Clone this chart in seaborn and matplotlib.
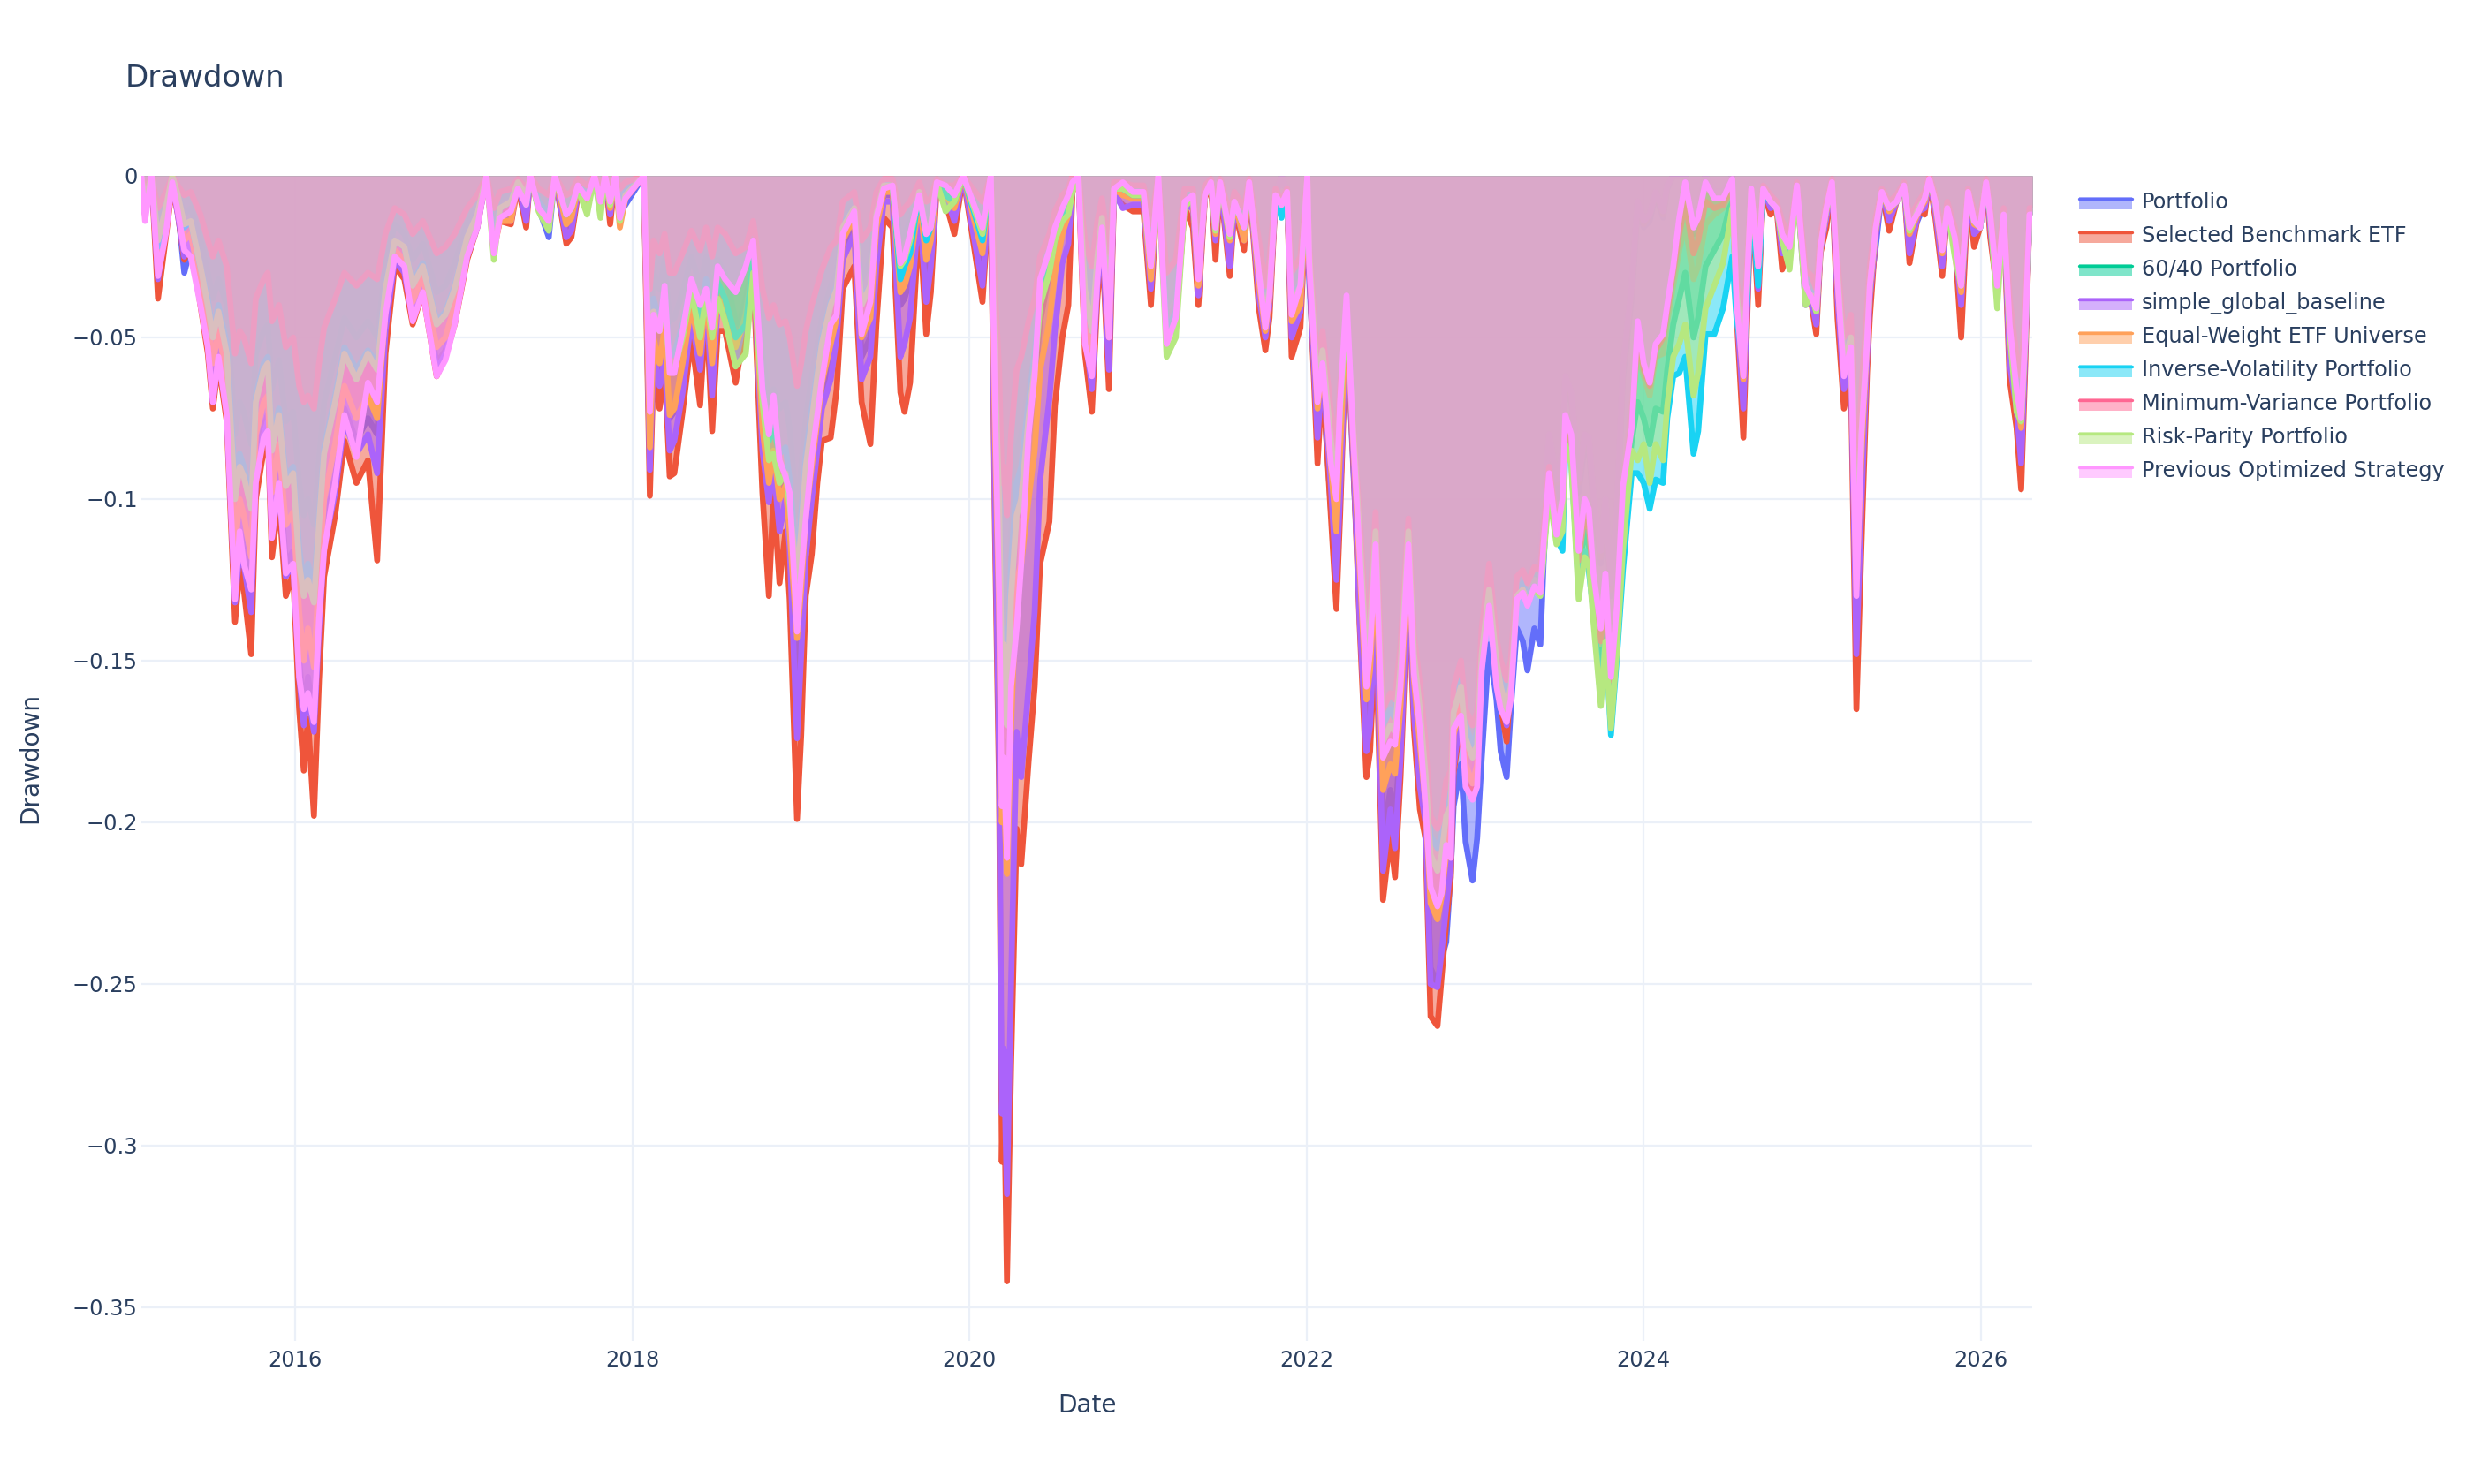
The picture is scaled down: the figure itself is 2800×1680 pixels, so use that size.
import numpy as np
import pandas as pd
import matplotlib
matplotlib.use("Agg")
import matplotlib.pyplot as plt
import seaborn as sns
from matplotlib.patches import Rectangle
from matplotlib.lines import Line2D

# knot dates (one line per year)
dates = [
    "2015-02-02", "2015-02-10", "2015-02-24", "2015-03-10", "2015-03-27", "2015-04-10", "2015-04-22", "2015-05-06", "2015-05-20", "2015-06-10", "2015-06-26", "2015-07-07", "2015-07-19", "2015-08-06", "2015-08-24", "2015-09-03", "2015-09-12", "2015-09-28", "2015-10-08", "2015-10-25", "2015-11-03", "2015-11-12", "2015-11-27", "2015-12-12", "2015-12-28",
    "2016-01-10", "2016-01-20", "2016-01-29", "2016-02-11", "2016-02-22", "2016-03-04", "2016-03-28", "2016-04-17", "2016-05-13", "2016-06-07", "2016-06-27", "2016-07-15", "2016-08-04", "2016-08-25", "2016-09-12", "2016-10-04", "2016-11-03", "2016-11-22", "2016-12-12",
    "2017-01-08", "2017-01-30", "2017-02-19", "2017-03-07", "2017-03-20", "2017-04-13", "2017-04-28", "2017-05-16", "2017-05-25", "2017-06-12", "2017-07-04", "2017-07-17", "2017-08-11", "2017-08-22", "2017-09-05", "2017-09-25", "2017-10-11", "2017-10-24", "2017-11-03", "2017-11-14", "2017-11-25", "2017-12-05", "2017-12-17",
    "2018-01-26", "2018-02-08", "2018-02-16", "2018-03-01", "2018-03-12", "2018-03-23", "2018-04-02", "2018-04-20", "2018-05-09", "2018-05-28", "2018-06-10", "2018-06-23", "2018-07-05", "2018-07-21", "2018-08-13", "2018-09-04", "2018-09-20", "2018-10-10", "2018-10-24", "2018-11-03", "2018-11-16", "2018-11-29", "2018-12-08", "2018-12-24",
    "2019-01-02", "2019-01-12", "2019-01-25", "2019-02-06", "2019-02-16", "2019-03-07", "2019-03-20", "2019-04-02", "2019-04-27", "2019-05-13", "2019-06-01", "2019-06-14", "2019-06-30", "2019-07-19", "2019-08-05", "2019-08-14", "2019-08-26", "2019-09-15", "2019-09-30", "2019-10-10", "2019-10-23", "2019-11-11", "2019-11-30", "2019-12-19",
    "2020-01-30", "2020-02-17", "2020-02-26", "2020-03-06", "2020-03-12", "2020-03-16", "2020-03-23", "2020-04-01", "2020-04-13", "2020-04-23", "2020-05-09", "2020-05-22", "2020-06-03", "2020-06-23", "2020-07-05", "2020-07-21", "2020-08-03", "2020-08-12", "2020-08-25", "2020-09-08", "2020-09-23", "2020-10-05", "2020-10-15", "2020-10-30", "2020-11-10", "2020-11-29", "2020-12-21",
    "2021-01-13", "2021-01-29", "2021-02-14", "2021-03-04", "2021-03-24", "2021-04-12", "2021-04-30", "2021-05-12", "2021-05-26", "2021-06-08", "2021-06-18", "2021-06-28", "2021-07-19", "2021-07-29", "2021-08-19", "2021-08-30", "2021-09-20", "2021-10-04", "2021-10-13", "2021-10-26", "2021-11-08", "2021-11-20", "2021-11-30", "2021-12-19", "2022-01-03",
    "2022-01-07", "2022-01-25", "2022-02-05", "2022-02-23", "2022-03-07", "2022-03-15", "2022-03-29", "2022-04-13", "2022-04-26", "2022-05-11", "2022-05-19", "2022-05-31", "2022-06-16", "2022-07-02", "2022-07-12", "2022-07-24", "2022-08-10", "2022-08-22", "2022-09-04", "2022-09-16", "2022-09-27", "2022-10-12", "2022-10-21", "2022-10-31", "2022-11-10", "2022-11-16", "2022-12-02", "2022-12-12", "2022-12-27",
    "2023-01-06", "2023-01-16", "2023-02-01", "2023-02-17", "2023-02-26", "2023-03-11", "2023-03-20", "2023-04-02", "2023-04-15", "2023-04-25", "2023-05-10", "2023-05-23", "2023-05-30", "2023-06-11", "2023-06-27", "2023-07-10", "2023-07-16", "2023-07-29", "2023-08-14", "2023-08-27", "2023-09-05", "2023-09-15", "2023-10-01", "2023-10-11", "2023-10-23", "2023-11-05", "2023-11-18", "2023-12-07", "2023-12-20",
    "2024-01-02", "2024-01-15", "2024-01-28", "2024-02-13", "2024-02-22", "2024-03-06", "2024-03-19", "2024-04-01", "2024-04-19", "2024-04-29", "2024-05-15", "2024-06-03", "2024-06-22", "2024-07-12", "2024-07-21", "2024-08-05", "2024-08-13", "2024-08-22", "2024-09-06", "2024-09-17", "2024-10-03", "2024-10-16", "2024-10-28", "2024-11-13", "2024-11-29", "2024-12-18", "2024-12-31",
    "2025-01-10", "2025-01-19", "2025-02-01", "2025-02-13", "2025-02-25", "2025-03-11", "2025-03-26", "2025-04-07", "2025-04-18", "2025-04-30", "2025-05-06", "2025-05-19", "2025-06-01", "2025-06-17", "2025-07-03", "2025-07-19", "2025-07-31", "2025-08-20", "2025-09-02", "2025-09-12", "2025-09-25", "2025-10-10", "2025-10-21", "2025-11-06", "2025-11-20", "2025-12-05", "2025-12-18", "2025-12-31",
    "2026-01-13", "2026-01-22", "2026-02-06", "2026-02-20", "2026-03-05", "2026-03-20", "2026-03-30", "2026-04-08", "2026-04-17", "2026-04-23",
]

# drawdown in percent, one line per year
portfolio = [
    0, -1.0, 0, -2.8, -1.5, 0, -1.0, -3.0, -2.2, -3.6, -5.0, -6.5, -5.3, -7.0, -12.5, -11.0, -11.5, -12.8, -9.0, -7.8, -7.4, -10.6, -9.0, -12.0, -11.6,
    -15.0, -16.5, -15.5, -16.8, -13.5, -11.0, -9.3, -7.2, -8.2, -7.5, -8.0, -4.6, -2.6, -3.0, -4.3, -3.4, -5.8, -5.4, -4.4,
    -2.4, -1.5, 0, -2.0, -1.2, -1.2, -0.2, -1.0, 0, -1.0, -1.9, 0, -1.6, -1.4, -0.4, -0.7, 0, -0.7, 0, -1.0, 0, -1.2, -0.9,
    0, -8.0, -5.0, -6.0, -4.8, -7.5, -7.3, -6.0, -4.0, -5.5, -3.5, -6.0, -3.6, -3.8, -5.0, -3.8, -2.6, -7.5, -9.0, -8.0, -9.8, -9.3, -10.6, -15.5,
    -13.5, -11.0, -9.3, -8.0, -6.8, -5.5, -4.7, -2.3, -1.5, -5.6, -5.0, -2.0, -0.6, -0.6, -4.0, -3.8, -3.2, -0.8, -3.0, -2.2, -0.2, -0.5, -1.0, 0,
    -2.6, 0, -7.0, -12.0, -19.0, -17.5, -21.0, -15.0, -10.0, -10.5, -8.0, -6.5, -4.5, -3.0, -2.0, -1.2, -0.8, -0.2, 0, -4.5, -6.0, -3.0, -1.5, -5.3, -0.4, -0.5, -0.7,
    -0.7, -3.2, 0, -4.4, -4.0, -0.8, -0.8, -3.4, -0.6, -0.2, -1.8, -0.2, -2.4, -0.8, -1.8, -0.2, -3.4, -4.8, -3.8, -0.6, 0, -0.5, -4.6, -3.9, 0,
    -3.2, -8.0, -6.3, -10.3, -12.0, -10.0, -4.4, -9.2, -13.0, -17.0, -16.3, -12.8, -20.5, -19.0, -20.0, -17.4, -12.0, -16.2, -18.6, -20.0, -24.5, -25.0, -24.2, -23.7, -21.5, -19.5, -18.2, -20.6, -21.8,
    -20.5, -18.0, -14.5, -16.2, -17.8, -18.6, -16.5, -14.0, -14.4, -15.3, -14.0, -14.5, -12.0, -8.8, -10.0, -9.0, -6.6, -7.0, -9.8, -8.4, -8.5, -10.2, -12.0, -10.4, -13.0, -10.8, -6.3, -3.8, -1.0,
    -1.6, -1.4, -0.6, -1.3, -0.4, 0, 0, 0, -1.6, -1.0, 0, -0.6, -0.5, 0, -3.8, -6.8, -4.0, -0.5, -3.2, -0.4, -0.9, -0.9, -2.0, -2.0, -0.3, -3.6, -3.7,
    -4.2, -2.2, -1.1, -0.2, -3.4, -6.2, -5.5, -13.5, -9.0, -5.4, -3.6, -2.2, -0.5, -1.2, -0.8, -0.3, -2.0, -1.3, -0.9, -0.1, -1.0, -2.6, -1.0, -1.9, -3.6, -0.5, -1.6, -1.6,
    -0.2, -1.4, -3.4, -1.2, -5.2, -6.8, -8.2, -5.2, -1.2, -1.2,
]
benchmark = [
    0, -1.2, 0, -3.8, -1.9, -0.3, -1.2, -2.6, -2.0, -4.0, -5.5, -7.2, -5.8, -7.6, -13.8, -12.2, -12.8, -14.8, -10.0, -8.5, -8.0, -11.8, -10.0, -13.0, -12.3,
    -16.5, -18.4, -16.8, -19.8, -15.6, -12.4, -10.5, -8.2, -9.5, -8.8, -11.9, -5.5, -2.8, -3.2, -4.6, -3.6, -6.2, -5.6, -4.6,
    -2.6, -1.6, 0, -2.2, -1.4, -1.5, -0.3, -1.6, 0, -1.0, -1.6, 0, -2.1, -1.9, -0.6, -0.9, 0, -0.9, 0, -1.5, 0, -1.4, -0.7,
    0, -9.9, -6.0, -7.2, -5.9, -9.3, -9.2, -7.3, -5.0, -7.1, -4.0, -7.9, -4.8, -4.8, -6.4, -4.5, -3.0, -9.8, -13.0, -9.8, -12.6, -11.0, -13.1, -19.9,
    -17.3, -13.0, -11.7, -9.5, -8.2, -8.1, -6.6, -3.5, -2.8, -7.0, -8.3, -4.6, -1.3, -1.6, -6.7, -7.3, -6.4, -1.2, -4.9, -3.6, -0.3, -0.8, -1.8, 0,
    -3.9, 0, -11.0, -19.0, -30.5, -27.5, -34.2, -27.5, -20.2, -21.3, -18.1, -15.8, -12.0, -10.7, -7.1, -5.0, -4.0, -0.5, 0, -5.5, -7.3, -3.8, -2.0, -6.6, -0.6, -0.9, -1.1,
    -1.1, -4.0, 0, -5.0, -4.6, -1.0, -1.6, -4.0, -0.7, -0.2, -2.6, -0.2, -3.1, -1.0, -2.3, -0.2, -4.1, -5.4, -4.4, -0.7, 0, -0.5, -5.6, -4.7, 0,
    -2.8, -8.9, -6.2, -10.5, -13.4, -10.5, -4.5, -9.0, -13.8, -18.6, -17.8, -14.0, -22.4, -20.4, -21.7, -18.6, -12.5, -17.1, -19.6, -20.5, -26.0, -26.3, -24.8, -23.1, -21.7, -18.5, -16.8, -18.5, -19.0,
    -18.0, -14.8, -12.5, -15.2, -16.4, -17.5, -15.5, -12.8, -12.5, -13.0, -12.2, -12.0, -10.5, -8.0, -9.5, -8.8, -6.3, -6.8, -9.5, -8.0, -8.2, -10.0, -11.8, -10.2, -12.8, -10.5, -6.0, -3.5, -0.8,
    -1.5, -1.2, -0.5, -1.2, -0.3, 0, 0, 0, -1.8, -1.2, 0, -0.5, -0.5, 0, -4.2, -8.1, -4.6, -0.5, -4.0, -0.5, -1.2, -1.0, -2.9, -2.2, -0.3, -3.8, -4.0,
    -4.9, -2.4, -1.6, -0.2, -4.4, -7.2, -6.2, -16.5, -11.4, -6.1, -4.4, -1.8, -0.5, -1.7, -0.8, -0.3, -2.7, -1.1, -1.2, -0.1, -1.3, -3.1, -1.0, -2.0, -5.0, -0.5, -2.2, -1.6,
    -0.2, -1.9, -3.6, -1.2, -6.3, -7.8, -9.7, -5.8, -1.2, -1.2,
]
sixty_forty = [
    0, -0.6, 0, -1.6, -0.8, 0, -0.5, -1.2, -1.0, -2.0, -3.0, -3.8, -3.2, -4.0, -8.0, -7.0, -7.3, -8.3, -5.5, -4.8, -4.6, -6.6, -5.7, -7.6, -7.3,
    -9.5, -10.5, -10.0, -10.8, -8.8, -7.0, -5.6, -4.4, -5.0, -4.5, -5.0, -2.8, -1.5, -1.8, -2.6, -2.1, -3.6, -3.4, -2.7,
    -1.5, -0.9, 0, -1.5, -0.7, -0.6, -0.1, -0.5, 0, -0.6, -0.9, 0, -0.9, -0.8, -0.2, -0.5, 0, -0.5, 0, -0.5, 0, -0.7, -0.4,
    0, -5.0, -3.0, -3.5, -2.6, -4.5, -4.4, -3.6, -2.5, -3.4, -2.5, -3.8, -2.6, -3.0, -4.5, -4.8, -2.5, -5.5, -7.0, -6.6, -7.2, -7.0, -7.8, -10.5,
    -9.0, -7.5, -6.2, -5.2, -4.4, -3.4, -3.0, -1.2, -0.8, -3.2, -2.6, -0.9, -0.2, -0.2, -2.0, -1.8, -1.4, -0.3, -1.3, -1.1, -0.1, -0.5, -0.5, 0,
    -1.3, 0, -5.0, -8.5, -13.5, -12.8, -14.5, -11.0, -8.5, -8.0, -6.5, -5.5, -3.8, -2.8, -1.8, -1.0, -0.6, -0.1, 0, -3.0, -4.0, -2.0, -1.0, -3.4, -0.3, -0.3, -0.4,
    -0.4, -2.0, 0, -4.0, -3.5, -0.6, -0.5, -2.4, -0.4, -0.1, -1.2, -0.1, -1.4, -0.6, -1.2, -0.1, -2.4, -3.8, -3.0, -0.5, -0.7, -0.4, -3.4, -2.8, 0,
    -2.2, -6.0, -5.0, -7.6, -8.9, -6.6, -4.2, -7.6, -10.5, -14.2, -13.3, -10.5, -16.8, -16.2, -16.4, -14.6, -10.6, -14.3, -15.9, -17.8, -20.2, -20.6, -20.2, -19.1, -18.8, -16.0, -15.3, -16.8, -17.3,
    -17.0, -14.2, -12.3, -14.5, -15.3, -16.0, -15.2, -12.6, -12.4, -12.8, -12.3, -12.4, -11.2, -9.2, -11.0, -10.5, -7.9, -8.5, -12.4, -11.0, -11.4, -13.0, -15.3, -13.6, -16.3, -14.0, -10.8, -8.2, -7.0,
    -7.5, -8.3, -7.2, -7.3, -6.0, -4.6, -3.8, -3.0, -5.0, -4.4, -2.8, -2.3, -1.8, -0.6, -3.0, -4.8, -2.8, -0.4, -2.2, -0.3, -0.6, -0.8, -1.5, -2.0, -0.2, -3.0, -3.2,
    -3.6, -1.8, -0.8, -0.1, -2.6, -5.0, -4.3, -10.0, -6.8, -4.3, -2.8, -1.3, -0.4, -0.8, -0.6, -0.2, -1.3, -0.8, -0.5, 0, -0.6, -1.8, -0.8, -1.7, -2.8, -0.4, -1.1, -1.3,
    -0.1, -1.0, -3.0, -1.0, -4.0, -5.8, -6.4, -4.2, -1.0, -1.0,
]
simple_global = [
    0, -1.2, 0, -3.2, -1.6, -0.2, -1.2, -2.5, -2.0, -3.8, -5.2, -7.0, -5.6, -7.3, -13.2, -11.6, -12.0, -13.5, -9.4, -8.0, -7.6, -11.2, -9.5, -12.4, -12.0,
    -15.5, -17.0, -16.0, -17.2, -14.0, -11.5, -9.8, -7.6, -8.6, -8.0, -9.2, -4.8, -2.6, -3.0, -4.4, -3.4, -6.0, -5.5, -4.5,
    -2.5, -1.6, 0, -2.2, -1.3, -1.4, -0.2, -1.4, 0, -1.0, -1.5, 0, -1.9, -1.7, -0.5, -0.8, 0, -0.8, 0, -1.2, 0, -1.3, -0.7,
    0, -9.1, -5.5, -6.5, -5.7, -8.5, -8.2, -6.7, -4.4, -6.0, -3.8, -6.8, -4.0, -4.3, -5.8, -4.2, -2.8, -8.5, -10.1, -9.0, -11.0, -10.0, -11.5, -17.4,
    -14.8, -11.8, -10.0, -8.5, -7.2, -6.3, -5.0, -2.6, -1.8, -6.3, -5.6, -2.8, -0.8, -0.8, -5.6, -5.2, -4.4, -0.9, -3.9, -2.8, -0.2, -0.6, -1.4, 0,
    -3.4, 0, -10.3, -18.0, -29.0, -27.0, -31.5, -25.0, -17.2, -18.6, -15.8, -13.5, -9.4, -6.9, -4.8, -2.7, -2.1, -0.3, 0, -4.8, -6.6, -3.4, -1.8, -6.0, -0.5, -1.0, -0.9,
    -0.9, -3.5, 0, -4.6, -4.2, -0.9, -1.0, -3.7, -0.6, -0.2, -2.0, -0.2, -2.8, -0.9, -2.0, -0.2, -3.7, -5.0, -4.0, -0.7, 0, -0.5, -5.0, -4.2, 0,
    -2.9, -8.1, -6.0, -9.6, -12.5, -9.8, -4.3, -8.8, -13.6, -17.8, -17.0, -13.2, -21.5, -19.6, -20.8, -18.0, -12.2, -16.6, -18.9, -20.0, -25.0, -25.1, -24.0, -22.6, -21.3, -18.3, -16.6, -18.3, -18.8,
    -17.8, -14.6, -12.4, -15.0, -16.2, -17.0, -15.2, -12.6, -12.3, -12.8, -12.0, -11.8, -10.4, -8.0, -9.4, -8.6, -6.2, -6.7, -9.4, -8.0, -8.1, -9.9, -11.6, -10.0, -12.6, -10.3, -5.9, -3.4, -0.8,
    -1.4, -1.2, -0.5, -1.1, -0.3, 0, 0, 0, -1.7, -1.1, 0, -0.5, -0.5, 0, -4.0, -7.2, -4.2, -0.5, -3.5, -0.4, -1.0, -0.9, -2.4, -2.2, -0.3, -4.0, -3.9,
    -4.6, -2.3, -1.3, -0.2, -3.8, -6.6, -5.8, -14.8, -10.1, -5.6, -3.8, -1.9, -0.5, -1.4, -0.8, -0.3, -2.4, -1.1, -1.0, -0.1, -1.1, -2.8, -1.0, -2.0, -4.0, -0.5, -1.8, -1.6,
    -0.2, -1.6, -3.6, -1.2, -5.8, -7.2, -8.9, -5.4, -1.2, -1.2,
]
equal_weight = [
    0, -1.0, 0, -2.6, -1.3, 0, -0.8, -2.0, -1.8, -3.3, -4.5, -5.8, -4.8, -6.2, -11.5, -10.0, -10.5, -11.8, -8.0, -7.0, -6.8, -9.8, -8.3, -10.8, -10.4,
    -13.5, -15.0, -14.0, -15.2, -12.3, -10.0, -8.3, -6.5, -7.5, -6.8, -7.5, -4.2, -2.3, -2.6, -3.9, -3.1, -5.3, -5.0, -4.0,
    -2.2, -1.4, 0, -2.3, -1.4, -1.4, -0.2, -0.9, 0, -1.0, -1.5, 0, -1.5, -1.3, -0.4, -0.8, 0, -0.8, 0, -1.0, 0, -1.6, -0.7,
    0, -8.4, -5.0, -5.8, -4.7, -7.4, -7.2, -5.8, -4.0, -5.5, -3.6, -5.8, -3.8, -4.0, -5.3, -4.3, -2.8, -7.8, -9.5, -8.5, -10.0, -9.6, -11.0, -14.3,
    -12.8, -10.5, -9.0, -7.6, -6.4, -5.2, -4.4, -2.0, -1.3, -5.0, -4.4, -1.6, -0.5, -0.5, -3.6, -3.4, -2.8, -0.7, -2.6, -2.0, -0.2, -0.6, -1.0, 0,
    -2.4, 0, -8.0, -13.5, -20.0, -19.0, -21.6, -17.0, -12.5, -12.0, -10.0, -8.5, -6.0, -4.5, -3.0, -1.8, -1.2, -0.3, 0, -4.0, -5.5, -2.8, -1.5, -5.0, -0.4, -0.6, -0.7,
    -0.7, -3.2, 0, -4.8, -4.4, -0.9, -0.8, -3.4, -0.6, -0.2, -1.8, -0.2, -2.0, -0.8, -2.0, -0.2, -3.3, -4.8, -3.8, -0.6, -0.5, -0.5, -4.5, -4.0, 0,
    -2.6, -7.2, -5.8, -9.0, -11.0, -8.5, -4.2, -8.4, -12.0, -16.2, -15.3, -12.0, -19.0, -18.2, -18.5, -16.4, -11.6, -15.6, -17.6, -19.4, -22.5, -23.0, -22.3, -21.0, -20.2, -17.3, -16.4, -18.2, -18.8,
    -18.2, -15.0, -12.9, -15.2, -16.2, -16.8, -15.8, -12.9, -12.7, -13.1, -12.5, -12.6, -11.2, -9.0, -10.6, -10.0, -7.5, -8.2, -11.5, -10.2, -10.4, -12.5, -14.5, -12.8, -15.8, -13.5, -9.5, -7.0, -5.5,
    -6.2, -6.8, -5.6, -5.5, -4.5, -3.4, -2.3, -1.5, -3.2, -2.8, -1.5, -1.2, -1.0, -0.4, -3.8, -6.3, -3.6, -0.5, -3.0, -0.4, -0.8, -1.0, -2.0, -2.2, -0.3, -3.6, -3.7,
    -4.2, -2.2, -1.1, -0.2, -3.3, -6.0, -5.3, -12.8, -8.6, -5.2, -3.5, -1.7, -0.5, -1.1, -0.8, -0.3, -1.8, -1.1, -0.8, -0.1, -0.9, -2.4, -1.0, -2.0, -3.6, -0.5, -1.5, -1.6,
    -0.2, -1.3, -3.5, -1.2, -5.0, -6.8, -7.8, -5.0, -1.2, -1.2,
]
inverse_vol = [
    0, -0.8, 0, -2.2, -1.0, 0, -0.6, -1.6, -1.4, -2.8, -3.8, -4.8, -4.0, -5.2, -9.5, -8.6, -9.0, -10.0, -6.8, -5.8, -5.6, -8.2, -7.2, -9.3, -9.0,
    -11.5, -12.6, -12.0, -12.8, -10.5, -8.4, -6.8, -5.3, -6.0, -5.4, -5.8, -3.4, -2.0, -2.2, -3.3, -2.7, -4.5, -4.2, -3.4,
    -1.9, -1.2, 0, -2.0, -1.0, -0.8, -0.2, -0.9, 0, -0.8, -1.2, 0, -1.2, -1.0, -0.3, -0.6, 0, -0.6, 0, -0.7, 0, -1.0, -0.5,
    0, -6.0, -3.8, -4.5, -3.5, -5.6, -5.5, -4.6, -3.3, -4.5, -3.2, -4.6, -3.3, -3.8, -5.0, -4.6, -2.6, -6.5, -8.2, -7.8, -8.6, -8.4, -9.4, -12.0,
    -10.5, -8.6, -7.2, -6.0, -5.0, -3.9, -3.4, -1.5, -1.0, -3.8, -3.4, -1.2, -0.3, -0.3, -3.2, -2.8, -2.4, -0.5, -2.0, -1.6, -0.2, -0.6, -0.8, 0,
    -2.0, 0, -5.8, -9.5, -15.0, -14.0, -16.0, -12.0, -9.5, -9.0, -7.0, -5.5, -3.8, -2.8, -1.8, -1.2, -0.8, -0.2, 0, -3.5, -4.8, -2.5, -1.3, -4.2, -0.4, -0.4, -0.6,
    -0.6, -2.7, 0, -4.8, -4.2, -0.8, -0.6, -2.9, -0.5, -0.2, -1.5, -0.2, -1.8, -0.8, -1.6, -0.2, -2.9, -4.3, -3.4, -0.6, -1.3, -0.5, -3.9, -3.3, 0,
    -2.4, -6.4, -5.3, -8.0, -9.4, -7.0, -4.0, -7.8, -10.8, -14.6, -13.6, -10.7, -17.0, -16.5, -16.8, -14.8, -10.7, -14.4, -16.0, -18.0, -20.4, -20.8, -20.4, -19.3, -19.0, -16.2, -15.5, -17.0, -17.6,
    -17.2, -14.4, -12.5, -14.7, -15.5, -16.2, -15.5, -12.8, -12.6, -13.0, -12.7, -12.8, -11.6, -9.6, -11.2, -11.6, -8.6, -8.8, -12.8, -11.6, -12.2, -13.5, -16.2, -14.2, -17.3, -14.9, -12.2, -9.2, -9.2,
    -9.5, -10.3, -9.4, -9.5, -7.5, -6.2, -6.1, -5.6, -8.6, -7.9, -4.9, -4.9, -4.1, -2.5, -4.4, -5.8, -3.8, -0.6, -3.4, -0.5, -0.8, -1.0, -1.9, -2.4, -0.3, -3.6, -3.6,
    -4.0, -2.1, -1.0, -0.2, -3.0, -5.8, -5.0, -11.5, -7.8, -5.0, -3.3, -1.6, -0.5, -1.0, -0.8, -0.3, -1.6, -1.0, -0.7, -0.1, -0.8, -2.2, -1.0, -2.2, -3.3, -0.5, -1.4, -1.6,
    -0.2, -1.2, -3.6, -1.2, -4.6, -6.8, -7.4, -4.9, -1.2, -1.2,
]
min_variance = [
    0, -0.5, 0, -1.0, -0.5, 0, -0.3, -0.6, -0.5, -1.2, -2.0, -2.5, -2.0, -2.8, -5.5, -4.8, -5.0, -5.8, -3.8, -3.2, -3.0, -4.5, -4.0, -5.3, -5.0,
    -6.5, -7.0, -6.8, -7.2, -5.8, -4.7, -3.8, -3.0, -3.4, -3.0, -3.2, -1.8, -1.0, -1.2, -1.8, -1.4, -2.4, -2.2, -1.8,
    -1.0, -0.6, 0, -1.0, -0.5, -0.4, -0.1, -0.4, 0, -0.4, -0.6, 0, -0.6, -0.5, -0.1, -0.3, 0, -0.3, 0, -0.3, 0, -0.4, -0.2,
    0, -3.5, -2.0, -2.4, -1.8, -3.0, -3.0, -2.4, -1.7, -2.3, -1.6, -2.5, -1.6, -1.8, -2.4, -2.2, -1.4, -3.5, -4.4, -4.0, -4.6, -4.5, -5.0, -6.5,
    -5.8, -4.8, -4.0, -3.4, -2.9, -2.2, -2.0, -0.8, -0.5, -2.0, -1.6, -0.5, -0.1, -0.1, -1.2, -1.0, -0.8, -0.2, -0.8, -0.7, -0.1, -0.3, -0.3, 0,
    -0.8, 0, -3.5, -6.0, -9.5, -9.0, -10.5, -8.0, -6.0, -5.6, -4.5, -3.8, -2.5, -1.8, -1.1, -0.6, -0.4, 0, 0, -2.0, -2.8, -1.4, -0.7, -2.4, -0.2, -0.2, -0.3,
    -0.3, -1.5, 0, -3.0, -2.6, -0.4, -0.4, -2.0, -0.3, -0.1, -1.0, -0.1, -1.2, -0.5, -1.0, -0.1, -2.0, -3.4, -2.6, -0.4, -0.8, -0.4, -3.0, -2.5, 0,
    -2.2, -5.8, -4.8, -7.3, -8.5, -6.5, -4.7, -7.8, -10.5, -14.0, -13.2, -10.4, -16.5, -16.0, -16.2, -14.5, -10.6, -14.2, -15.7, -17.5, -19.8, -20.2, -19.8, -18.7, -18.4, -15.8, -15.0, -16.5, -17.0,
    -16.6, -14.0, -12.0, -14.3, -15.0, -15.6, -15.0, -12.4, -12.2, -12.6, -12.1, -12.2, -11.0, -9.0, -10.8, -10.2, -7.6, -8.3, -11.9, -10.5, -10.8, -12.6, -14.4, -12.8, -15.6, -13.4, -9.8, -7.6, -5.0,
    -6.0, -6.5, -5.4, -5.0, -4.2, -3.0, -1.8, -0.8, -2.4, -2.0, -0.8, -1.0, -0.9, -0.3, -3.2, -4.8, -2.8, -0.4, -2.2, -0.3, -0.6, -0.8, -1.4, -1.9, -0.2, -2.9, -3.1,
    -3.5, -1.8, -0.8, -0.1, -2.6, -5.0, -4.3, -9.8, -6.6, -4.2, -2.8, -1.3, -0.4, -0.8, -0.6, -0.2, -1.3, -0.8, -0.5, 0, -0.6, -1.8, -0.8, -1.6, -2.7, -0.4, -1.1, -1.3,
    -0.1, -1.0, -2.9, -1.0, -3.8, -5.6, -6.2, -4.0, -1.0, -1.0,
]
risk_parity = [
    0, -0.8, 0, -2.0, -1.0, 0, -0.6, -1.5, -1.4, -2.8, -4.0, -5.0, -4.2, -5.5, -10.0, -9.0, -9.3, -10.3, -7.0, -6.0, -5.8, -8.5, -7.4, -9.6, -9.2,
    -12.0, -13.0, -12.5, -13.2, -10.8, -8.6, -7.0, -5.5, -6.3, -5.5, -6.0, -3.5, -2.0, -2.2, -3.4, -2.8, -4.6, -4.3, -3.5,
    -1.9, -1.2, 0, -2.6, -1.0, -0.8, -0.2, -0.6, 0, -1.1, -1.7, 0, -1.2, -1.0, -0.4, -1.2, 0, -1.3, 0, -0.9, 0, -1.4, -0.6,
    0, -6.5, -4.2, -4.8, -3.8, -6.0, -6.0, -5.0, -3.6, -5.0, -3.7, -5.0, -3.8, -4.5, -5.9, -5.5, -3.0, -7.0, -8.8, -8.6, -9.5, -9.2, -10.2, -12.5,
    -11.0, -9.0, -7.6, -6.2, -5.2, -4.0, -3.5, -1.6, -1.0, -4.0, -3.4, -1.2, -0.3, -0.3, -2.8, -2.6, -2.0, -0.5, -1.8, -1.5, -0.2, -1.1, -0.8, 0,
    -1.8, 0, -6.0, -10.0, -15.5, -14.5, -17.0, -13.0, -10.5, -10.0, -7.5, -6.0, -4.0, -3.0, -2.0, -1.4, -1.2, -0.5, 0, -3.5, -4.8, -2.5, -1.3, -4.2, -0.4, -0.4, -0.6,
    -0.6, -2.8, 0, -5.6, -5.0, -1.0, -0.6, -3.0, -0.6, -0.2, -1.7, -0.2, -1.9, -0.8, -1.6, -0.2, -3.0, -4.4, -3.5, -0.6, -0.9, -0.5, -4.0, -3.4, 0,
    -2.4, -6.5, -5.4, -8.2, -9.6, -7.2, -4.2, -8.0, -11.0, -15.0, -14.0, -11.0, -17.5, -17.0, -17.2, -15.2, -11.0, -14.8, -16.5, -18.5, -21.0, -21.5, -21.0, -19.8, -19.5, -16.6, -15.8, -17.4, -18.0,
    -17.6, -14.8, -12.8, -15.0, -15.8, -16.5, -15.8, -13.0, -12.8, -13.2, -12.8, -13.0, -11.8, -9.8, -11.4, -11.0, -8.3, -8.9, -13.1, -11.8, -12.0, -13.8, -16.4, -14.4, -17.1, -14.7, -11.6, -8.5, -8.8,
    -8.3, -9.5, -8.3, -8.8, -7.1, -5.6, -5.2, -4.6, -6.8, -6.1, -4.1, -3.4, -2.7, -1.0, -3.6, -5.6, -3.4, -0.5, -2.8, -0.4, -0.8, -1.0, -2.0, -2.9, -0.3, -4.0, -3.7,
    -4.2, -2.2, -1.0, -0.2, -3.0, -5.8, -5.0, -12.0, -8.0, -5.0, -3.4, -1.6, -0.5, -1.0, -0.8, -0.3, -1.7, -1.0, -0.7, -0.1, -0.8, -2.2, -1.0, -2.5, -3.4, -0.5, -1.4, -1.6,
    -0.2, -1.2, -4.1, -1.2, -4.8, -7.3, -7.6, -5.0, -1.2, -1.2,
]
previous_opt = [
    0, -1.4, 0, -3.1, -1.8, -0.2, -1.1, -2.3, -2.5, -4.0, -5.3, -7.0, -5.6, -7.4, -13.1, -11.0, -12.0, -12.8, -9.5, -8.1, -7.9, -11.2, -9.5, -12.3, -12.0,
    -15.5, -16.5, -16.0, -16.9, -13.7, -11.6, -9.5, -7.4, -8.7, -6.4, -7.0, -4.3, -2.5, -2.8, -4.5, -3.6, -6.2, -5.7, -4.6,
    -2.5, -1.6, 0, -2.4, -1.3, -1.1, -0.4, -0.9, 0, -1.0, -1.4, 0, -1.2, -1.0, -0.3, -0.7, 0, -0.8, 0, -0.8, 0, -1.3, -0.7,
    0, -7.3, -4.3, -4.8, -3.4, -6.1, -6.1, -4.8, -3.2, -4.0, -3.5, -4.7, -2.8, -3.2, -3.6, -2.8, -2.0, -6.6, -8.0, -6.8, -8.8, -9.3, -9.8, -14.1,
    -12.3, -10.6, -8.7, -7.4, -6.3, -4.6, -4.3, -1.8, -1.1, -4.9, -3.9, -1.3, -0.4, -0.3, -2.7, -2.5, -1.8, -0.6, -1.8, -1.6, -0.2, -0.3, -0.6, 0,
    -1.6, 0, -7.0, -13.0, -19.5, -18.0, -21.1, -15.8, -14.0, -12.0, -8.0, -6.2, -3.2, -2.3, -1.6, -1.0, -0.6, -0.2, 0, -5.2, -6.2, -3.2, -1.6, -5.0, -0.4, -0.2, -0.5,
    -0.5, -2.8, 0, -5.2, -4.4, -0.8, -0.6, -3.2, -0.6, -0.2, -1.6, -0.2, -1.8, -0.8, -1.6, -0.2, -3.0, -4.7, -3.7, -0.6, -0.9, -0.5, -4.3, -3.4, 0,
    -2.7, -7.0, -5.8, -8.9, -10.0, -7.0, -3.7, -8.3, -11.6, -15.8, -14.7, -11.4, -18.0, -17.5, -17.6, -15.8, -11.4, -15.4, -17.1, -19.5, -22.0, -22.6, -22.2, -20.7, -21.1, -17.1, -16.7, -18.9, -19.3,
    -18.9, -15.3, -13.3, -15.8, -16.5, -16.9, -16.2, -13.1, -12.9, -13.3, -12.7, -12.9, -11.4, -9.2, -11.1, -10.0, -7.4, -8.0, -11.6, -10.0, -10.3, -12.3, -14.0, -12.3, -15.5, -13.3, -9.6, -7.8, -4.5,
    -5.8, -6.4, -5.2, -4.9, -4.0, -2.8, -1.3, -0.2, -1.6, -1.3, -0.2, -0.7, -0.7, -0.1, -3.9, -6.2, -3.4, -0.4, -2.8, -0.4, -0.8, -1.0, -1.8, -2.2, -0.3, -3.4, -3.8,
    -4.1, -2.2, -1.0, -0.2, -3.2, -6.2, -5.3, -13.0, -8.0, -5.2, -3.4, -1.6, -0.5, -1.0, -0.8, -0.3, -1.6, -1.1, -0.7, -0.1, -0.8, -2.3, -1.0, -1.9, -3.4, -0.5, -1.4, -1.6,
    -0.2, -1.2, -3.4, -1.2, -4.6, -6.6, -7.5, -4.9, -1.2, -1.2,
]

series_names = ["Portfolio", "Selected Benchmark ETF", "60/40 Portfolio", "simple_global_baseline",
                "Equal-Weight ETF Universe", "Inverse-Volatility Portfolio", "Minimum-Variance Portfolio",
                "Risk-Parity Portfolio", "Previous Optimized Strategy"]
series_values = [portfolio, benchmark, sixty_forty, simple_global, equal_weight,
                 inverse_vol, min_variance, risk_parity, previous_opt]
colors = ["#636EFA", "#EF553B", "#00CC96", "#AB63FA", "#FFA15A",
          "#19D3F3", "#FF6692", "#B6E880", "#FF97FF"]

frames = []
for name, vals in zip(series_names, series_values):
    assert len(vals) == len(dates), (name, len(vals), len(dates))
    frames.append(pd.DataFrame({"Date": pd.to_datetime(dates),
                                "Drawdown": np.array(vals, dtype=float) / 100.0,
                                "Series": name}))
df = pd.concat(frames, ignore_index=True)

sns.set_theme(style="white")
plt.rcParams["font.family"] = ["DejaVu Sans"]
text_color = "#2a3f5f"
grid_color = "#EBF0F8"

W, H = 2800, 1680
fig = plt.figure(figsize=(14, 8.4), dpi=200)
ax = fig.add_axes([160 / W, 1 - 1518 / H, 2140 / W, 1319 / H])

# each trace: its fill then its line, stacked in trace order
for i, (name, color) in enumerate(zip(series_names, colors)):
    sub = df[df["Series"] == name]
    ax.fill_between(sub["Date"], sub["Drawdown"], 0, color=color, alpha=0.5,
                    linewidth=0, zorder=10 + 2 * i)
    sns.lineplot(data=sub, x="Date", y="Drawdown", color=color, linewidth=2.4,
                 estimator=None, legend=False, ax=ax, zorder=11 + 2 * i)

ax.set_xlim(pd.Timestamp("2015-02-02"), pd.Timestamp("2026-04-23"))
ax.set_ylim(-0.3604, 0)

xt = [pd.Timestamp(f"{y}-01-01") for y in range(2016, 2027, 2)]
ax.set_xticks(xt)
ax.set_xticklabels([str(y) for y in range(2016, 2027, 2)])
yt = [-0.35, -0.3, -0.25, -0.2, -0.15, -0.1, -0.05, 0]
ax.set_yticks(yt)
ax.set_yticklabels(["\u22120.35", "\u22120.3", "\u22120.25", "\u22120.2", "\u22120.15", "\u22120.1", "\u22120.05", "0"])

ax.grid(True, color=grid_color, linewidth=0.8, zorder=0)
ax.set_axisbelow(True)
for s in ax.spines.values():
    s.set_visible(False)
ax.tick_params(axis="both", length=0, labelsize=8.64, colors=text_color)
ax.tick_params(axis="y", pad=1.5)
ax.tick_params(axis="x", pad=3.5)
ax.set_xlabel("")
ax.set_ylabel("")

fig.text(142 / W, 1 - 88 / H, "Drawdown", fontsize=12.24, color=text_color, ha="left", va="center")
fig.text(1230 / W, 1 - 1591 / H, "Date", fontsize=10.08, color=text_color, ha="center", va="center")
fig.text(34 / W, 1 - 858 / H, "Drawdown", fontsize=10.08, color=text_color, ha="center", va="center", rotation=90)

# legend, plotly style (fill box with line on top)
for i, (name, color) in enumerate(zip(series_names, colors)):
    yc = 229 + 38 * i
    fig.add_artist(Rectangle((2353 / W, 1 - (yc + 8) / H), 60 / W, 14 / H,
                             transform=fig.transFigure, facecolor=color, alpha=0.5, edgecolor="none"))
    fig.add_artist(Line2D([2353 / W, 2413 / W], [1 - (yc - 4.5) / H] * 2,
                          transform=fig.transFigure, color=color, linewidth=1.2))
    fig.text(2424 / W, 1 - yc / H, name, fontsize=8.64, color=text_color, ha="left", va="center")

fig.savefig("out.png", dpi=200, facecolor="white")
